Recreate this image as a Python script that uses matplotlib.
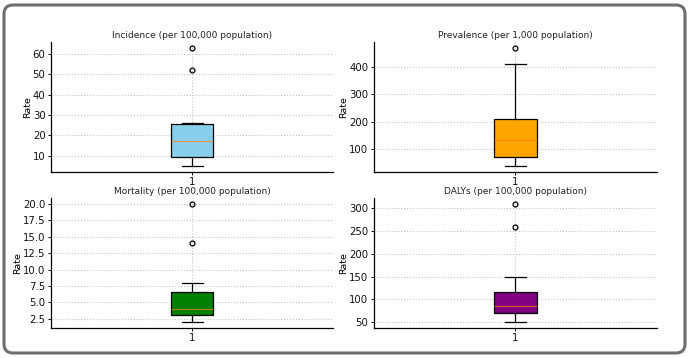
import matplotlib

matplotlib.use("Agg")

import matplotlib.pyplot as plt
from matplotlib.patches import FancyBboxPatch
from matplotlib.ticker import MultipleLocator, FormatStrFormatter

# Box statistics
TITLES = [
    "Incidence (per 100,000 population)",
    "Prevalence (per 1,000 population)",
    "Mortality (per 100,000 population)",
    "DALYs (per 100,000 population)",
]
FILL_COLORS = ["skyblue", "orange", "green", "purple"]
WHISKER_LOW = [5, 40, 2, 50]
Q1 = [9.5, 74, 3, 70]
MEDIANS = [17, 135, 4, 85]
Q3 = [25.8, 212, 6.5, 115]
WHISKER_HIGH = [26, 412, 8, 150]
FLIERS = [[52, 63], [470], [14, 20], [260, 310]]
Y_TICK_STEP = [10, 100, 2.5, 50]

AXES_RECTS = [
    (0.074, 0.520, 0.409, 0.363),
    (0.542, 0.520, 0.410, 0.363),
    (0.074, 0.084, 0.409, 0.363),
    (0.542, 0.084, 0.410, 0.363),
]

fig = plt.figure(figsize=(6.9, 3.58), dpi=100)
fig.patch.set_facecolor("white")

# rounded grey frame around the whole picture
frame = FancyBboxPatch(
    (4 / 690, 5 / 358),
    681 / 690,
    348 / 358,
    boxstyle="round,pad=0,rounding_size=0.013",
    transform=fig.transFigure,
    facecolor="none",
    edgecolor="#6e6e6e",
    linewidth=2.2,
    mutation_aspect=690 / 358,
    zorder=10,
)
fig.patches.append(frame)

for i, rect in enumerate(AXES_RECTS):
    ax = fig.add_axes(rect)
    stats = [{
        "whislo": WHISKER_LOW[i],
        "q1": Q1[i],
        "med": MEDIANS[i],
        "q3": Q3[i],
        "whishi": WHISKER_HIGH[i],
        "fliers": FLIERS[i],
        "label": "1",
    }]
    ax.bxp(
        stats,
        patch_artist=True,
        boxprops=dict(facecolor=FILL_COLORS[i], edgecolor="black", linewidth=0.9),
        medianprops=dict(color="#ff7f0e", linewidth=0.9, alpha=0.7),
        whiskerprops=dict(color="black", linewidth=0.9),
        capprops=dict(color="black", linewidth=0.9),
        flierprops=dict(marker="o", markersize=3.5, markerfacecolor="none",
                        markeredgecolor="black", markeredgewidth=0.9),
    )
    ax.yaxis.set_major_locator(MultipleLocator(Y_TICK_STEP[i]))
    if Y_TICK_STEP[i] % 1:
        ax.yaxis.set_major_formatter(FormatStrFormatter("%.1f"))
    ax.set_title(TITLES[i], fontsize=6.5, pad=3, color="#222222")
    ax.set_ylabel("Rate", fontsize=6.8, labelpad=0.5)
    ax.grid(True, linestyle=":", color="#c4c4c4", linewidth=0.8)
    ax.set_axisbelow(True)
    ax.spines["top"].set_visible(False)
    ax.spines["right"].set_visible(False)
    ax.spines["left"].set_linewidth(0.9)
    ax.spines["bottom"].set_linewidth(0.9)
    ax.tick_params(labelsize=7.3, length=2.5, width=0.7, pad=1.5, colors="#111111")

fig.savefig("out.png", dpi=100, facecolor="white")
